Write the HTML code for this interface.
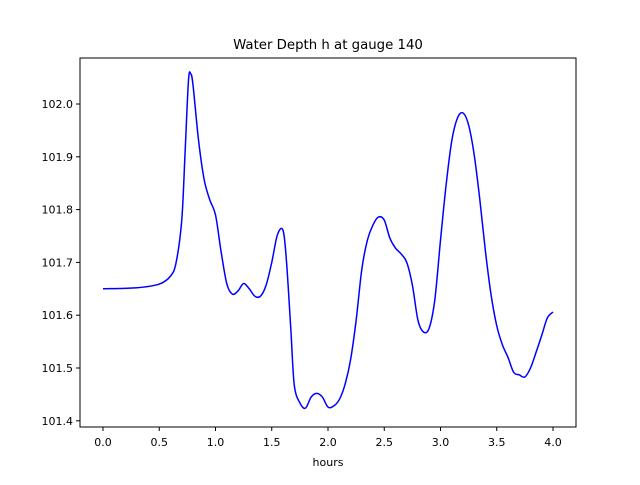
<!DOCTYPE html>
<html><head><meta charset="utf-8"><style>
body{margin:0;background:#fff;font-family:"Liberation Sans","DejaVu Sans",sans-serif}
text{font-family:"DejaVu Sans","Liberation Sans",sans-serif}
</style></head><body>
<svg id="chart" width="640" height="480" xmlns="http://www.w3.org/2000/svg">
<rect width="640" height="480" fill="#fff"/>
<text x="328" y="49" font-size="13.3" text-anchor="middle">Water Depth h at gauge 140</text>
<g id="plot"></g>
<rect x="80" y="58" width="496" height="369" fill="none" stroke="#000" stroke-width="1"/>
<text x="328" y="466" font-size="11" text-anchor="middle">hours</text>
</svg>
<script>
const hours=[0,0.3,0.5,0.6,0.65,0.7,0.73,0.76,0.78,0.8,0.85,0.9,0.95,1.0,1.05,1.1,1.15,1.2,1.25,1.3,1.35,1.4,1.45,1.5,1.55,1.6,1.63,1.67,1.7,1.75,1.8,1.85,1.9,1.95,2.0,2.05,2.1,2.15,2.2,2.25,2.3,2.35,2.4,2.45,2.5,2.55,2.6,2.65,2.7,2.75,2.8,2.85,2.9,2.95,3.0,3.05,3.1,3.15,3.2,3.25,3.3,3.35,3.4,3.45,3.5,3.55,3.6,3.65,3.7,3.75,3.8,3.85,3.9,3.95,4.0];
const depth=[101.650,101.652,101.659,101.674,101.70,101.78,101.91,102.045,102.057,102.036,101.93,101.856,101.818,101.79,101.72,101.66,101.64,101.646,101.66,101.65,101.636,101.636,101.657,101.70,101.752,101.761,101.705,101.572,101.468,101.434,101.424,101.445,101.452,101.445,101.426,101.428,101.44,101.468,101.515,101.59,101.686,101.742,101.771,101.786,101.78,101.746,101.727,101.716,101.70,101.657,101.59,101.568,101.576,101.63,101.742,101.847,101.93,101.973,101.983,101.96,101.903,101.818,101.72,101.638,101.58,101.544,101.52,101.492,101.487,101.483,101.50,101.53,101.562,101.595,101.606];
const xTicks=[0,0.5,1.0,1.5,2.0,2.5,3.0,3.5,4.0];
const yTicks=[101.4,101.5,101.6,101.7,101.8,101.9,102.0];
const X=v=>103+v*112.5;
const Y=v=>104+(102.0-v)*528;
const NS="http://www.w3.org/2000/svg";
const g=document.getElementById('plot');
function el(t,a){const e=document.createElementNS(NS,t);for(const k in a)e.setAttribute(k,a[k]);g.appendChild(e);return e;}
xTicks.forEach(t=>{
 const l=el('line',{x1:X(t),x2:X(t),y1:427,y2:431,stroke:'#000'});
 
 
 const tx=el('text',{x:X(t),y:446,'font-size':11,'text-anchor':'middle'});
 tx.textContent=t.toFixed(1);
 
 
});
yTicks.forEach(t=>{
 const l=el('line',{x1:76,x2:80,y1:Y(t),y2:Y(t),stroke:'#000'});
 
 
 const tx=el('text',{x:73,y:Y(t)+4,'font-size':11,'text-anchor':'end'});
 tx.textContent=t.toFixed(1);
 
 
});
const pts=hours.map((h,i)=>[X(h),Y(depth[i])]);
let d='M'+pts[0][0]+','+pts[0][1];
for(let i=0;i<pts.length-1;i++){
 const p0=pts[i-1]||pts[i],p1=pts[i],p2=pts[i+1],p3=pts[i+2]||p2;
 const c1=[p1[0]+(p2[0]-p0[0])/6,p1[1]+(p2[1]-p0[1])/6];
 const c2=[p2[0]-(p3[0]-p1[0])/6,p2[1]-(p3[1]-p1[1])/6];
 d+=` C${c1[0]},${c1[1]} ${c2[0]},${c2[1]} ${p2[0]},${p2[1]}`;
}
const line=el('path',{d:d,fill:'none',stroke:'#0000ff','stroke-width':1.5});


</script>
</body></html>
